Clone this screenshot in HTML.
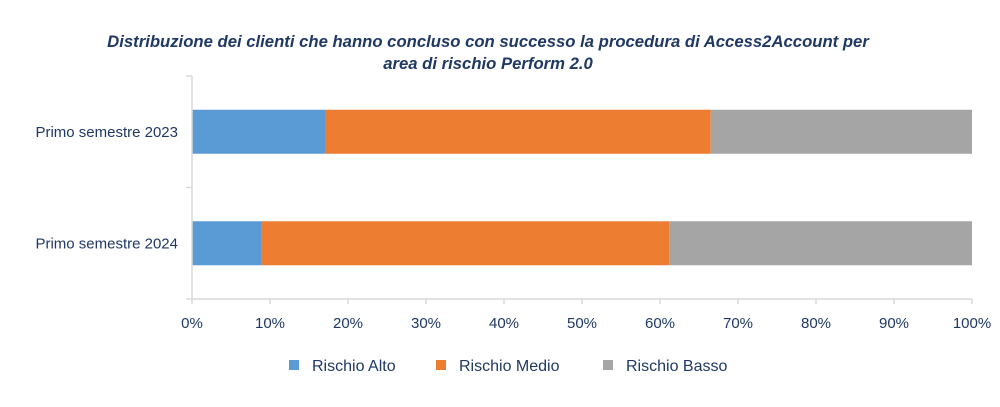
<!DOCTYPE html>
<html><head><meta charset="utf-8"><style>
body{margin:0;background:#fff;}
svg text{font-family:"Liberation Sans",sans-serif;fill:#1F3864;}
</style></head><body>
<svg id="chart" width="1000" height="402" viewBox="0 0 1000 402" xmlns="http://www.w3.org/2000/svg">
<text x="488" y="47" text-anchor="middle" font-size="16.7" font-weight="bold" font-style="italic">Distribuzione dei clienti che hanno concluso con successo la procedura di Access2Account per</text>
<text x="488" y="69" text-anchor="middle" font-size="16.7" font-weight="bold" font-style="italic">area di rischio Perform 2.0</text>
<g id="grid"></g><g id="bars"></g><g id="axes"></g><g id="legend"></g>
</svg>
<script>
const categories = ["Primo semestre 2023", "Primo semestre 2024"];
const seriesNames = ["Rischio Alto", "Rischio Medio", "Rischio Basso"];
const rischioAlto = [17.05, 8.85];
const rischioMedio = [49.45, 52.35];
const rischioBasso = [33.5, 38.8];
const xTicks = [0,10,20,30,40,50,60,70,80,90,100];
const colors = ["#5B9BD5","#ED7D31","#A5A5A5"];
const NS="http://www.w3.org/2000/svg";
const x0=192,x1=972,yTop=76,yBot=299;
const xs=v=>x0+(v/100)*(x1-x0);
const band=(yBot-yTop)/categories.length;
const barH=44;
function mk(tag,attrs,parent){const e=document.createElementNS(NS,tag);for(const k in attrs)e.setAttribute(k,attrs[k]);parent.appendChild(e);return e;}
const bars=document.getElementById('bars'),axes=document.getElementById('axes'),legend=document.getElementById('legend');
const series=[rischioAlto,rischioMedio,rischioBasso];
categories.forEach((c,i)=>{
  const yc=yTop+band*(i+0.5);
  let acc=0;
  series.forEach((s,j)=>{
    const r=mk('rect',{x:xs(acc),y:yc-barH/2,width:xs(acc+s[i])-xs(acc),height:barH,fill:colors[j]},bars);
    
    
    acc+=s[i];
  });
  const t=mk('text',{x:178,y:yc+5,'text-anchor':'end','font-size':'15'},axes);
  t.textContent=c;
  
  
});
const ax=mk('line',{x1:x0,y1:yTop,x2:x0,y2:yBot,stroke:'#D9D9D9','stroke-width':1.5},axes);


const bx=mk('line',{x1:x0,y1:yBot,x2:x1,y2:yBot,stroke:'#D9D9D9','stroke-width':1.5},axes);


for(let i=0;i<=categories.length;i++){const y=yTop+band*i;const tk=mk('line',{x1:x0-6,y1:y,x2:x0,y2:y,stroke:'#D9D9D9','stroke-width':1.5},axes);}
xTicks.forEach(v=>{
  const tk=mk('line',{x1:xs(v),y1:yBot,x2:xs(v),y2:yBot+5,stroke:'#D9D9D9','stroke-width':1.5},axes);
  
  
  const t=mk('text',{x:xs(v),y:yBot+29,'text-anchor':'middle','font-size':'15'},axes);
  t.textContent=v+'%';
  
  
});
const lx=[288,435,602];
seriesNames.forEach((n,j)=>{
  const g=mk('g',{},legend);
  
  
  mk('rect',{x:lx[j]+1,y:360,width:10,height:10,fill:colors[j]},g);
  const t=mk('text',{x:lx[j]+24,y:371,'font-size':'16'},g);
  t.textContent=n;
});
</script>
</body></html>
